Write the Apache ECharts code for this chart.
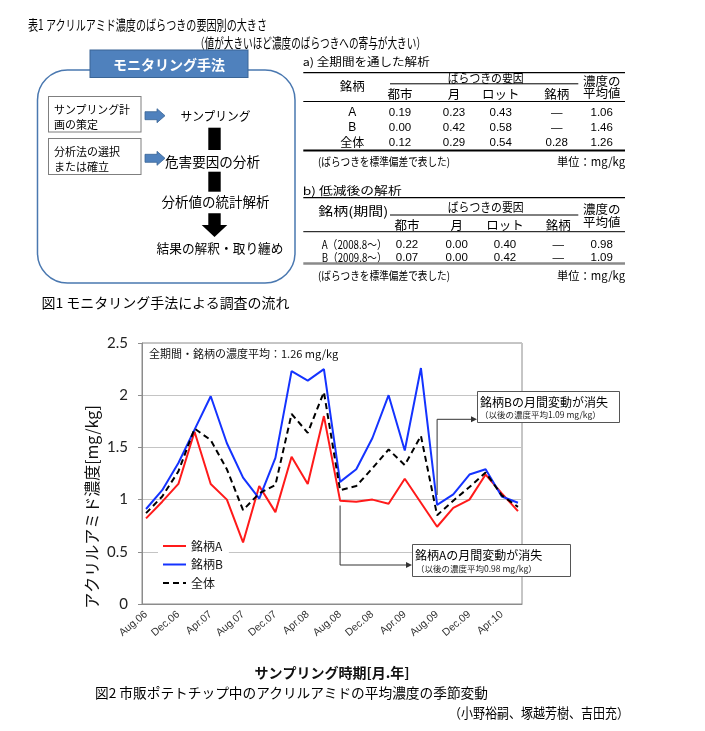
<!DOCTYPE html>
<html><head><meta charset="utf-8">
<script src="https://cdn.jsdelivr.net/npm/echarts@6/dist/echarts.min.js"></script>
<style>
html,body{margin:0;padding:0;background:#fff;}
#chart{position:absolute;left:0;top:0;width:705px;height:731px;}
#ov{position:absolute;left:0;top:0;pointer-events:none;}
</style></head><body>
<div id="chart"></div>
<svg id="ov" width="705" height="731" xmlns="http://www.w3.org/2000/svg"></svg>
<script>
// ---------- data ----------
const sampleDates = ['Aug.06','Oct.06','Dec.06','Feb.07','Apr.07','Jun.07','Aug.07','Oct.07','Dec.07','Feb.08','Apr.08','Jun.08',
                     'Aug.08','Oct.08','Dec.08','Feb.09','Apr.09','Jun.09','Aug.09','Oct.09','Dec.09','Feb.10','Apr.10','Jun.10'];
const brandA  = [0.82,0.98,1.15,1.65,1.15,1.00,0.59,1.13,0.88,1.41,1.15,1.80,0.99,0.98,1.00,0.96,1.20,0.97,0.74,0.92,1.00,1.24,1.06,0.89];
const brandB  = [0.91,1.09,1.35,1.67,1.99,1.54,1.21,1.01,1.40,2.23,2.14,2.25,1.17,1.29,1.59,2.00,1.47,2.26,0.95,1.05,1.24,1.29,1.03,0.97];
const overall = [0.87,1.03,1.27,1.68,1.57,1.29,0.90,1.06,1.14,1.82,1.64,2.03,1.09,1.13,1.30,1.48,1.33,1.61,0.85,0.99,1.12,1.26,1.04,0.93];
const tickLabels = ['Aug.06','Dec.06','Apr.07','Aug.07','Dec.07','Apr.08','Aug.08','Dec.08','Apr.09','Aug.09','Dec.09','Apr.10'];
const yTicks = [0,0.5,1,1.5,2,2.5];
const seriesNames = ['銘柄A','銘柄B','全体'];

const tableHeads = ['都市','月','ロット','銘柄'];
const tableARows = ['A','B','全体'];
const tableAVals = [['0.19','0.23','0.43','—','1.06'],['0.00','0.42','0.58','—','1.46'],['0.12','0.29','0.54','0.28','1.26']];
const tableBRows = ['A（2008.8～）','B（2009.8～）'];
const tableBVals = [['0.22','0.00','0.40','—','0.98'],['0.07','0.00','0.42','—','1.09']];

// monthly category axis Aug.06 .. Jun.10
const MN = ['Jan','Feb','Mar','Apr','May','Jun','Jul','Aug','Sep','Oct','Nov','Dec'];
const months = [];
{ let m = 7, y = 6; while (!(y === 10 && m === 6)) { months.push(MN[m] + '.' + String(y).padStart(2,'0')); m++; if (m === 12) { m = 0; y++; } } }

const JP = "'Noto Sans CJK JP', sans-serif";
const LAT = "'Liberation Sans', Arial, sans-serif";

// ---------- chart ----------
const chart = echarts.init(document.getElementById('chart'), null, {renderer:'canvas'});
const pairs = arr => sampleDates.map((d,i)=>[d, arr[i]]);
const option = {
  animation:false,
  backgroundColor:'#fff',
  grid:{left:142, top:343, width:380, height:261, show:true, borderColor:'#8c8c8c', borderWidth:1, containLabel:false},
  xAxis:{
    type:'category', data:months, boundaryGap:true,
    axisLine:{lineStyle:{color:'#8c8c8c', width:1}},
    axisTick:{interval:3, length:4, lineStyle:{color:'#8c8c8c'}},
    axisLabel:{interval:(i,v)=>tickLabels.indexOf(v)>=0, rotate:40, margin:9, fontSize:10.5, color:'#333', fontFamily:LAT},
    name:'サンプリング時期[月.年]', nameLocation:'middle', nameGap:62,
    nameTextStyle:{fontSize:14, fontWeight:'bold', color:'#111', fontFamily:JP},
    splitLine:{show:false}
  },
  yAxis:{
    type:'value', min:yTicks[0], max:yTicks[yTicks.length-1], interval:0.5,
    axisLine:{show:true, lineStyle:{color:'#8c8c8c', width:1}},
    axisTick:{show:true, length:4, lineStyle:{color:'#8c8c8c'}},
    axisLabel:{margin:14, fontSize:15, color:'#222', fontFamily:"Lato, 'Liberation Sans', sans-serif"},
    splitLine:{lineStyle:{color:'#c4c4c4', width:1}}
  },
  legend:{
    data:seriesNames, orient:'vertical', left:158, top:537, itemWidth:23, itemHeight:14, itemGap:6.5,
    backgroundColor:'#fff', padding:[3,6,3,4],
    itemStyle:{color:'rgba(0,0,0,0)', borderWidth:0, opacity:0},
    textStyle:{fontSize:12, color:'#111', fontFamily:JP}
  },
  series:[
    {name:seriesNames[0], type:'line', data:pairs(brandA), symbol:'none', lineStyle:{color:'#ff1a1a', width:2}, itemStyle:{color:'#ff1a1a'}, z:3},
    {name:seriesNames[1], type:'line', data:pairs(brandB), symbol:'none', lineStyle:{color:'#1433ff', width:2}, itemStyle:{color:'#1433ff'}, z:3},
    {name:seriesNames[2], type:'line', data:pairs(overall), symbol:'none', lineStyle:{color:'#000', width:2, type:[6,4]}, itemStyle:{color:'#000'}, z:4}
  ]
};
chart.setOption(option);

const xA = chart.convertToPixel({xAxisIndex:0}, 'Aug.08');
const xB = chart.convertToPixel({xAxisIndex:0}, 'Aug.09');
function arrowHead(tx, ty){ return {type:'polygon', z:110, shape:{points:[[tx-6,ty-3],[tx,ty],[tx-6,ty+3]]}, style:{fill:'#333'}}; }
chart.setOption({graphic:[
  {type:'text', z:100, x:149, y:354, style:{text:'全期間・銘柄の濃度平均：1.26 mg/kg', font:"11px 'Noto Sans CJK JP'", fill:'#111', verticalAlign:'middle'}},
  {type:'text', z:100, x:91.5, y:507, rotation:Math.PI/2, style:{text:'アクリルアミド濃度[mg/kg]', font:"16px 'Noto Sans CJK JP'", fill:'#111', align:'center', verticalAlign:'middle'}},
  // connector A
  {type:'polyline', z:105, shape:{points:[[xA,505.5],[xA,565],[406,565]]}, style:{stroke:'#333', lineWidth:1, fill:null}},
  arrowHead(412,565),
  // connector B
  {type:'polyline', z:105, shape:{points:[[xB,495],[xB,419.3],[471,419.3]]}, style:{stroke:'#333', lineWidth:1, fill:null}},
  arrowHead(477,419.3),
  // box A
  {type:'rect', z:106, shape:{x:412.5, y:544.5, width:158, height:32}, style:{fill:'#fff', stroke:'#555', lineWidth:1}},
  {type:'text', z:107, x:415, y:555.7, style:{text:'銘柄Aの月間変動が消失', font:"12px 'Noto Sans CJK JP'", fill:'#000', verticalAlign:'middle'}},
  {type:'text', z:107, x:416, y:569, style:{text:'（以後の濃度平均0.98 mg/kg）', font:"8.5px 'Noto Sans CJK JP'", fill:'#222', verticalAlign:'middle'}},
  // box B
  {type:'rect', z:106, shape:{x:477.5, y:391.5, width:142, height:31}, style:{fill:'#fff', stroke:'#555', lineWidth:1}},
  {type:'text', z:107, x:480, y:402.7, style:{text:'銘柄Bの月間変動が消失', font:"12px 'Noto Sans CJK JP'", fill:'#000', verticalAlign:'middle'}},
  {type:'text', z:107, x:480, y:414.7, style:{text:'（以後の濃度平均1.09 mg/kg）', font:"8.5px 'Noto Sans CJK JP'", fill:'#222', verticalAlign:'middle'}}
]});

// ---------- overlay (tables, flow diagram, captions) ----------
const ns = 'http://www.w3.org/2000/svg';
const ov = document.getElementById('ov');
function el(tag, attrs, text){ const e=document.createElementNS(ns,tag); for (const k in attrs) e.setAttribute(k, attrs[k]); if (text!=null) e.textContent=text; ov.appendChild(e); return e; }
function txt(x,y,s,size,o={}){
  const a={x:x,y:y,'font-size':size,'font-family':o.ff||JP,'dominant-baseline':'central','text-anchor':o.anchor||'start',fill:o.fill||'#000'};
  if (o.len){a.textLength=o.len; a.lengthAdjust='spacingAndGlyphs';}
  if (o.weight) a['font-weight']=o.weight;
  return el('text',a,s);
}
function line(x1,y1,x2,y2,w,c){ el('line',{x1:x1,y1:y1,x2:x2,y2:y2,stroke:c||'#000','stroke-width':w}); }

// titles
txt(28,24,'表1 アクリルアミド濃度のばらつきの要因別の大きさ',14,{len:239});
txt(195,42,'（値が大きいほど濃度のばらつきへの寄与が大きい）',14,{len:231});

// flow diagram
el('rect',{x:37.5,y:70,width:257.5,height:213,rx:30,ry:30,fill:'#fff',stroke:'#4a78b0','stroke-width':1.5});
el('rect',{x:90,y:50,width:158,height:27.5,fill:'#4f81bd',stroke:'#3a6596','stroke-width':1});
txt(169,64,'モニタリング手法',14,{anchor:'middle',fill:'#fff',weight:'bold',len:112});
el('rect',{x:48.5,y:96.5,width:92.5,height:35.5,fill:'#fff',stroke:'#7f7f7f','stroke-width':1});
txt(54,108.5,'サンプリング計',11.5,{len:76});
txt(54,123.5,'画の策定',11.5,{len:44});
el('rect',{x:48.5,y:138.5,width:92.5,height:36,fill:'#fff',stroke:'#7f7f7f','stroke-width':1});
txt(54,150.5,'分析法の選択',11.5,{len:66});
txt(54,165.5,'または確立',11.5,{len:55});
function blueArrow(cy){
  el('polygon',{points:[[145,cy-4],[157,cy-4],[157,cy-7],[165,cy],[157,cy+7],[157,cy+4],[145,cy+4]].map(p=>p.join(',')).join(' '),
    fill:'#4f81bd',stroke:'#3a6596','stroke-width':0.8});
}
blueArrow(115.7); blueArrow(158.3);
txt(180.5,115.7,'サンプリング',12.5,{len:70});
el('rect',{x:208.3,y:127.7,width:12.4,height:22.3,fill:'#000'});
txt(165,160.7,'危害要因の分析',13.5,{len:95});
el('rect',{x:208.3,y:171.7,width:12.4,height:20,fill:'#000'});
txt(161.5,200.7,'分析値の統計解析',13.5,{len:108});
el('polygon',{points:'208.3,213.3 220.7,213.3 220.7,225 227.3,225 214.5,237 201.7,225 208.3,225',fill:'#000'});
txt(156.5,247.7,'結果の解釈・取り纏め',13,{len:127});
txt(41.5,301.7,'図1 モニタリング手法による調査の流れ',13.5,{len:248});

// table a
const colA = [400,454,500.7,556.7,601.7];
txt(302.7,61,'a) 全期間を通した解析',11,{len:127});
line(303.3,72.7,625,72.7,1.2);
txt(352.3,85,'銘柄',12.5,{anchor:'middle'});
txt(485.7,77.3,'ばらつきの要因',12,{anchor:'middle',len:76});
line(390,83.8,578.3,83.8,1);
tableHeads.forEach((h,i)=>txt(colA[i],93.3,h,12.5,{anchor:'middle'}));
txt(601.7,80,'濃度の',12.5,{anchor:'middle'});
txt(601.7,92,'平均値',12.5,{anchor:'middle'});
line(303.3,101.5,625,101.5,1);
const rowYA = [111.7,126.7,141.7];
tableARows.forEach((r,j)=>{
  txt(352.3,rowYA[j],r,12,{anchor:'middle',ff:(r==='全体'?JP:LAT)});
  tableAVals[j].forEach((v,i)=>txt(colA[i],rowYA[j],v,11.5,{anchor:'middle',ff:LAT}));
});
line(303.3,150.5,625,150.5,2);
txt(318,160.5,'(ばらつきを標準偏差で表した)',11,{len:132});
txt(625,160.5,'単位：mg/kg',11.5,{anchor:'end',len:68});

// table b
const colB = [407,456.7,505,558.3,601.7];
txt(302.7,190,'b) 低減後の解析',11,{len:99});
line(303.3,197.7,625,197.7,1.2);
txt(353.3,210,'銘柄(期間)',12.5,{anchor:'middle',len:70});
txt(485.7,206.7,'ばらつきの要因',12,{anchor:'middle',len:76});
line(390,215,578.3,215,1);
tableHeads.forEach((h,i)=>txt(colB[i],224.3,h,12.5,{anchor:'middle'}));
txt(601.7,208.3,'濃度の',12.5,{anchor:'middle'});
txt(601.7,221.3,'平均値',12.5,{anchor:'middle'});
line(303.3,231.7,625,231.7,1);
const rowYB = [244,256.7];
tableBRows.forEach((r,j)=>{
  txt(321.7,rowYB[j],r,11.5,{len:65});
  tableBVals[j].forEach((v,i)=>txt(colB[i],rowYB[j],v,11.5,{anchor:'middle',ff:LAT}));
});
line(303.3,263.5,625,263.5,2.5,'#8a8a8a');
txt(318,275,'(ばらつきを標準偏差で表した)',11,{len:132});
txt(625,275,'単位：mg/kg',11.5,{anchor:'end',len:68});

// captions
txt(95,691.7,'図2 市販ポテトチップ中のアクリルアミドの平均濃度の季節変動',13.5,{len:393});
txt(449,712,'（小野裕嗣、塚越芳樹、吉田充）',13.5,{len:180});
</script>
</body></html>
